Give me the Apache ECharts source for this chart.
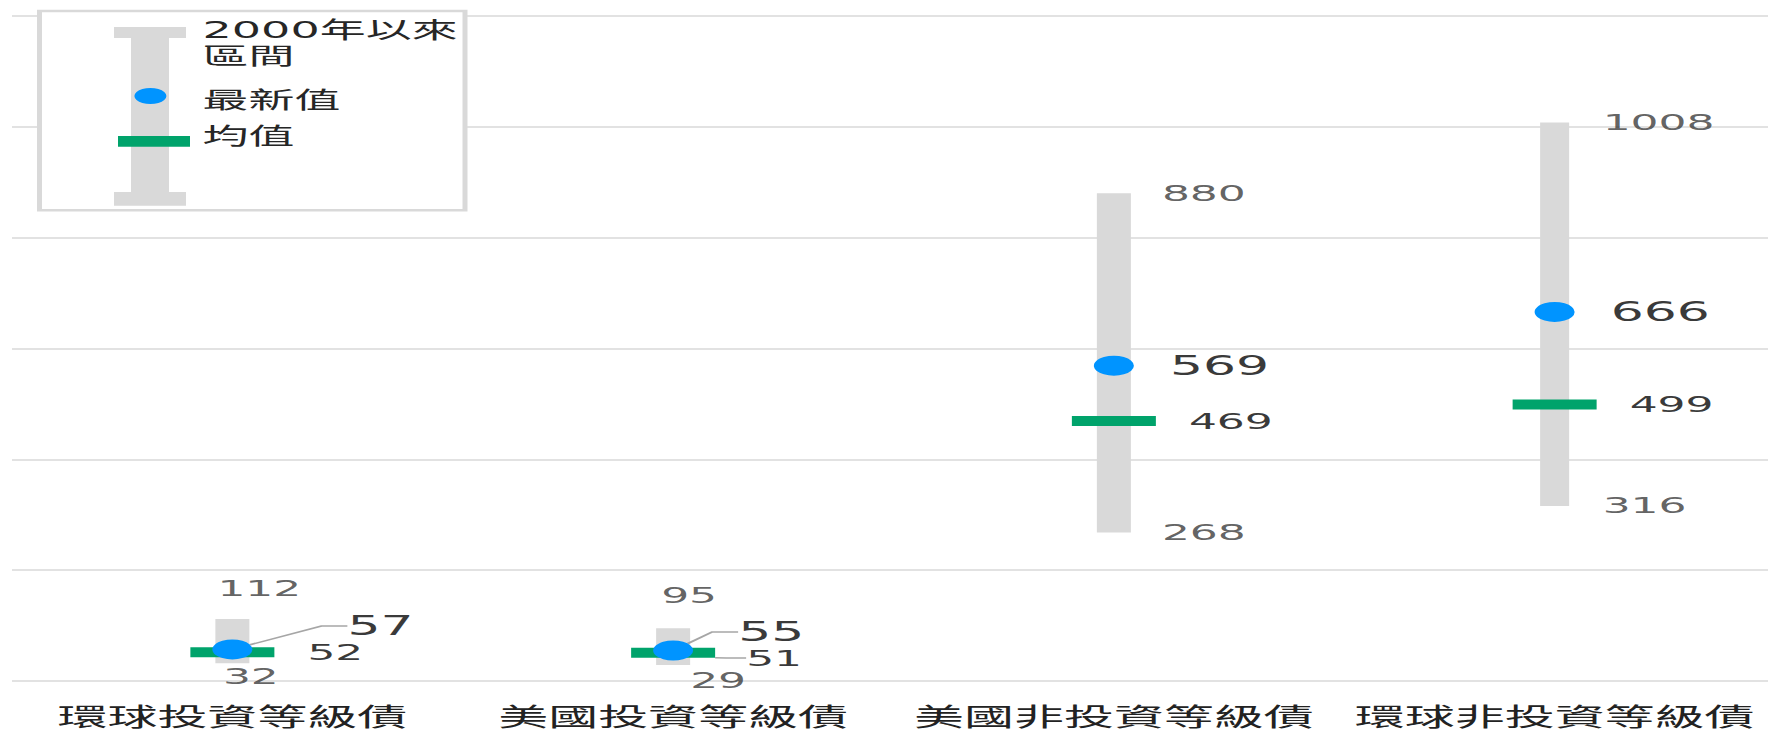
<!DOCTYPE html>
<html>
<head>
<meta charset="utf-8">
<script src="https://cdn.jsdelivr.net/npm/echarts@6/dist/echarts.min.js"></script>
<style>
html, body { margin: 0; padding: 0; background: #ffffff; overflow: hidden; width: 1768px; height: 732px; }
#chart { width: 888px; height: 732px; transform: scaleX(2); transform-origin: 0 0; }
</style>
</head>
<body>
<div id="chart"></div>
<script>
// ---- data ----
const categories = ['環球投資等級債', '美國投資等級債', '美國非投資等級債', '環球非投資等級債'];
const rangeMax = [112, 95, 880, 1008];
const rangeMin = [32, 29, 268, 316];
const latestValue = [57, 55, 569, 666];
const meanValue = [52, 51, 469, 499];
const yMin = 0, yMax = 1200, yInterval = 200;
const legendLabels = ['2000年以來', '區間', '最新值', '均值'];

// ---- styles / manual label placement (px, in unstretched chart space) ----
const GRAY = '#d9d9d9', BLUE = '#0094ff', GREEN = '#00a36b';
const LABEL_COLOR = '#3a3a3a', GUIDE_COLOR = '#a6a6a6';
const NUM_FONT = "'DejaVu Sans', 'Noto Sans CJK TC', sans-serif";
const CJK_FONT = "'Noto Sans CJK TC', sans-serif";
const labelShift = {
  max:    {0: [-31.5, -31], 1: [-30, -33.4]},
  min:    {0: [-28.75, 12.7], 1: [-15.5, 15]},
  latest: {0: [29.5, -23.4], 1: [4.5, -18.5]},
  mean:   {1: [-1, 5.3]}
};
const rangeBarWidth = {default: 17, 3: 14.5};

function layoutFor(shifts) {
  return function (p) {
    const s = shifts[p.dataIndex];
    return s ? {dx: s[0], dy: s[1]} : {};
  };
}
function itemsFor(values, shifts, guide) {
  return values.map(function (v, i) {
    return {value: v, labelLine: {show: !!(guide && shifts[i])}};
  });
}
function valueText(p) { return Array.isArray(p.value) ? p.value[p.value.length - 1] : p.value; }

const chart = echarts.init(document.getElementById('chart'), null, {renderer: 'svg'});

const option = {
  animation: false,
  grid: {left: 6, right: 0.5, top: 16, bottom: 51, containLabel: false},
  xAxis: {
    type: 'category',
    data: categories,
    axisLine: {show: false},
    axisTick: {show: false},
    axisLabel: {fontSize: 25, fontFamily: CJK_FONT, color: '#222222', margin: 21, interval: 0}
  },
  yAxis: {
    type: 'value',
    min: yMin, max: yMax, interval: yInterval,
    axisLine: {show: false},
    axisTick: {show: false},
    axisLabel: {show: false},
    splitLine: {lineStyle: {color: GRAY, width: 1.5}}
  },
  series: [
    {
      type: 'custom',
      name: '2000年以來區間',
      z: 1,
      silent: true,
      data: categories.map(function (c, i) { return [i, rangeMin[i], rangeMax[i]]; }),
      encode: {x: 0, y: [1, 2]},
      renderItem: function (params, api) {
        const lo = api.coord([api.value(0), api.value(1)]);
        const hi = api.coord([api.value(0), api.value(2)]);
        const w = rangeBarWidth[params.dataIndex] || rangeBarWidth.default;
        return {type: 'rect', shape: {x: lo[0] - w / 2, y: hi[1], width: w, height: lo[1] - hi[1]}, style: {fill: GRAY}};
      }
    },
    {
      type: 'scatter',
      name: '均值',
      z: 3,
      symbol: 'rect',
      symbolSize: [42, 10],
      itemStyle: {color: GREEN, opacity: 1},
      data: itemsFor(meanValue, labelShift.mean, true),
      label: {show: true, position: 'right', distance: 16.5, formatter: valueText,
              fontFamily: NUM_FONT, fontSize: 22, color: LABEL_COLOR},
      labelLine: {lineStyle: {color: GUIDE_COLOR, width: 1.5}, length2: 10},
      labelLayout: layoutFor(labelShift.mean)
    },
    {
      type: 'scatter',
      name: '最新值',
      z: 4,
      symbol: 'circle',
      symbolSize: 20,
      itemStyle: {color: BLUE, opacity: 1},
      data: itemsFor(latestValue, labelShift.latest, true),
      label: {show: true, position: 'right', distance: 18, formatter: valueText,
              fontFamily: NUM_FONT, fontSize: 26, color: LABEL_COLOR},
      labelLine: {lineStyle: {color: GUIDE_COLOR, width: 1.5}, length2: 13},
      labelLayout: layoutFor(labelShift.latest)
    },
    {
      type: 'scatter',
      name: 'max',
      z: 5,
      silent: true,
      symbolSize: 1,
      itemStyle: {color: 'rgba(0,0,0,0)'},
      data: itemsFor(rangeMax, labelShift.max, false),
      label: {show: true, position: 'right', distance: 23.5, formatter: valueText,
              fontFamily: NUM_FONT, fontSize: 22, color: LABEL_COLOR},
      labelLayout: layoutFor(labelShift.max)
    },
    {
      type: 'scatter',
      name: 'min',
      z: 5,
      silent: true,
      symbolSize: 1,
      itemStyle: {color: 'rgba(0,0,0,0)'},
      data: itemsFor(rangeMin, labelShift.min, false),
      label: {show: true, position: 'right', distance: 23.5, formatter: valueText,
              fontFamily: NUM_FONT, fontSize: 22, color: LABEL_COLOR},
      labelLayout: layoutFor(labelShift.min)
    }
  ],
  graphic: [
    {type: 'rect', z: 100, shape: {x: 19.75, y: 11, width: 212.75, height: 199.3},
     style: {fill: '#ffffff', stroke: GRAY, lineWidth: 2.5}},
    {type: 'rect', z: 101, shape: {x: 57, y: 27, width: 36, height: 11}, style: {fill: GRAY}},
    {type: 'rect', z: 101, shape: {x: 65.5, y: 37.5, width: 19, height: 155}, style: {fill: GRAY}},
    {type: 'rect', z: 101, shape: {x: 57, y: 192, width: 36, height: 13.7}, style: {fill: GRAY}},
    {type: 'rect', z: 102, shape: {x: 59, y: 136, width: 36, height: 10.7}, style: {fill: GREEN}},
    {type: 'circle', z: 103, shape: {cx: 75.2, cy: 96, r: 8}, style: {fill: BLUE}},
    {type: 'text', z: 103, x: 101.3, y: 30,
     style: {text: legendLabels[0], font: '23px ' + NUM_FONT, fill: '#262626', verticalAlign: 'middle'}},
    {type: 'text', z: 103, x: 101.3, y: 56.5,
     style: {text: legendLabels[1], font: '23px ' + NUM_FONT, fill: '#262626', verticalAlign: 'middle'}},
    {type: 'text', z: 103, x: 101.3, y: 100,
     style: {text: legendLabels[2], font: '23px ' + NUM_FONT, fill: '#262626', verticalAlign: 'middle'}},
    {type: 'text', z: 103, x: 101.3, y: 136,
     style: {text: legendLabels[3], font: '23px ' + NUM_FONT, fill: '#262626', verticalAlign: 'middle'}}
  ]
};
chart.setOption(option);
</script>
</body>
</html>
